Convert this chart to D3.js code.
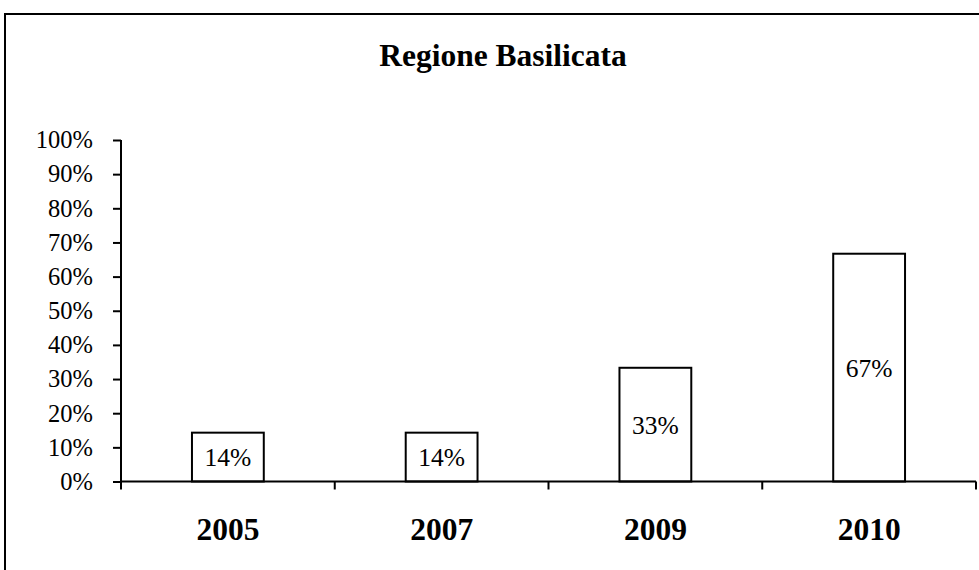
<!DOCTYPE html>
<html>
<head>
<meta charset="utf-8">
<script src="https://cdn.jsdelivr.net/npm/d3@7"></script>
<style>
  html, body { margin: 0; padding: 0; background: #fff; }
  svg { display: block; font-family: "Liberation Serif", "Times New Roman", serif; }
</style>
</head>
<body>
<svg id="chart" width="979" height="570"></svg>
<script>
const title = "Regione Basilicata";
const categories = ["2005", "2007", "2009", "2010"];
const values = [14.3, 14.3, 33.3, 66.7];
const valueLabels = ["14%", "14%", "33%", "67%"];
const yTicks = [0, 10, 20, 30, 40, 50, 60, 70, 80, 90, 100];

(function () {
const svg = d3.select("#chart");
const W = 979, H = 570;
const pLeft = 121, pRight = 976, pTop = 140, pBottom = 481.5;

svg.append("rect").attr("x", 0).attr("y", 0).attr("width", W).attr("height", H).attr("fill", "#fff");
// outer chart frame (extends beyond the window on right and bottom)
svg.append("rect").attr("x", 5).attr("y", 14).attr("width", 1200).attr("height", 800)
  .attr("fill", "none").attr("stroke", "#000").attr("stroke-width", 2);

const x = d3.scaleBand().domain(categories).range([pLeft, pRight]).padding(0);
const y = d3.scaleLinear().domain([0, 100]).range([pBottom, pTop]);
const barW = x.bandwidth() * 0.336;

// title
svg.append("text").attr("x", 503).attr("y", 66).attr("text-anchor", "middle")
  .attr("font-size", 31.5).attr("font-weight", "bold").text(title);

// bars
const g = svg.append("g");
g.selectAll("rect.bar").data(values).enter().append("rect")
  .attr("class", "bar")
  .attr("x", (d, i) => x(categories[i]) + x.bandwidth() / 2 - barW / 2)
  .attr("y", d => y(d))
  .attr("width", barW)
  .attr("height", d => y(0) - y(d))
  .attr("fill", "#fff").attr("stroke", "#000").attr("stroke-width", 2);

g.selectAll("text.val").data(values).enter().append("text")
  .attr("class", "val")
  .attr("x", (d, i) => x(categories[i]) + x.bandwidth() / 2)
  .attr("y", d => (y(d) + y(0)) / 2)
  .attr("dy", "0.36em")
  .attr("text-anchor", "middle")
  .attr("font-size", 25.5)
  .text((d, i) => valueLabels[i]);

// y axis
const yAxis = d3.axisLeft(y).tickValues(yTicks).tickFormat(d => d + "%").tickSize(8).tickPadding(20);
const ya = svg.append("g").attr("transform", `translate(${pLeft},0)`).call(yAxis);
ya.selectAll("path.domain").attr("stroke", "#000").attr("stroke-width", 2).attr("d", `M0,${pTop}V${pBottom}`);
ya.selectAll(".tick line").attr("stroke", "#000").attr("stroke-width", 2);
ya.selectAll(".tick text").attr("font-size", 24.5).attr("fill", "#000")
  .attr("font-family", "'Liberation Serif', 'Times New Roman', serif");

// x axis
const xa = svg.append("g").attr("transform", `translate(0,${pBottom})`);
xa.append("line").attr("x1", pLeft).attr("x2", pRight).attr("y1", 0).attr("y2", 0)
  .attr("stroke", "#000").attr("stroke-width", 2);
const boundaries = categories.map(c => x(c)).concat([x(categories[categories.length - 1]) + x.bandwidth()]);
xa.selectAll("line.tk").data(boundaries).enter().append("line")
  .attr("class", "tk")
  .attr("x1", d => d).attr("x2", d => d).attr("y1", 0).attr("y2", 8)
  .attr("stroke", "#000").attr("stroke-width", 2);
xa.selectAll("text.cat").data(categories).enter().append("text")
  .attr("class", "cat")
  .attr("x", d => x(d) + x.bandwidth() / 2)
  .attr("y", 58.5)
  .attr("text-anchor", "middle")
  .attr("font-size", 31.5).attr("font-weight", "bold")
  .text(d => d);
})();
</script>
</body>
</html>
